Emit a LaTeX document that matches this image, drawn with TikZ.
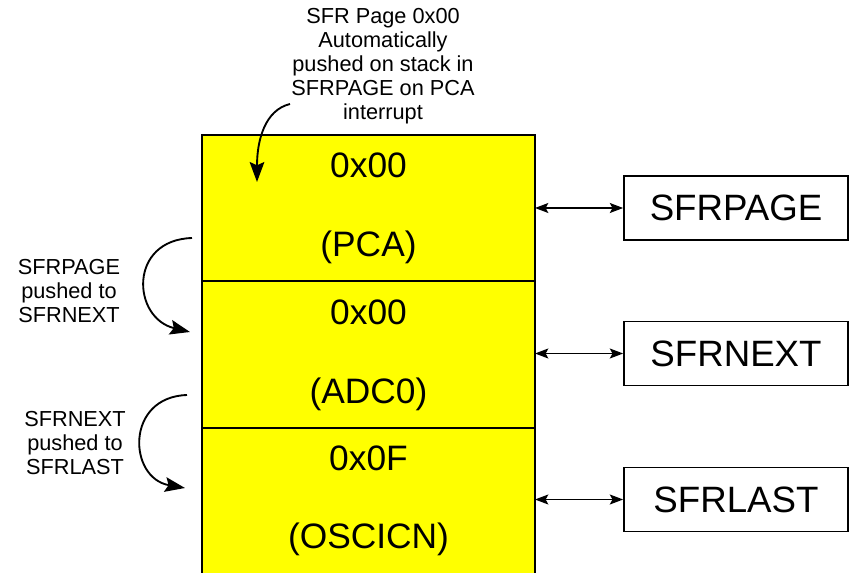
\documentclass[tikz,border=0pt]{standalone}
\usepackage{fontspec}
\setmainfont{Liberation Sans}
\usetikzlibrary{arrows.meta}
\definecolor{ylw}{RGB}{255,255,0}
\begin{document}
\begin{tikzpicture}[x=0.75pt,y=-0.75pt,
 cell/.style={draw=black, fill=ylw, line width=0.8pt, minimum width=249.75pt, minimum height=110.25pt, inner sep=0pt, outer sep=0pt},
 big/.style={font=\fontsize{26.5}{30}\selectfont, inner sep=0pt},
 reg/.style={draw=black, line width=1.3pt, minimum width=168pt, minimum height=48pt, font=\fontsize{27.5}{30}\selectfont, inner sep=0pt},
 note/.style={font=\fontsize{16.3}{18}\selectfont, align=center, inner sep=0pt},
 curvearr/.style={line width=1.4pt, -{Stealth[length=15pt,width=11pt,inset=2.5pt]}},
 link/.style={line width=1pt, {Stealth[length=10pt,width=7.5pt,inset=2pt]}-{Stealth[length=10pt,width=7.5pt,inset=2pt]}}
]
\useasboundingbox (0,0) rectangle (849,573);
\begin{scope}
\clip (0,0) rectangle (849,573);
\node[cell] (c1) at (368.5,208.5) {};
\node[cell] (c2) at (368.5,354.5) {};
\node[cell] (c3) at (368.5,501.5) {};
\end{scope}
\node[big] (v1) at (368.5,165) {0x00};
\node[big] (n1) at (368.5,247) {(PCA)};
\node[big] (v2) at (368.5,312) {0x00};
\node[big] (n2) at (368.5,394) {(ADC0)};
\node[big] (v3) at (368.5,458) {0x0F};
\node[big] (n3) at (368.5,539) {(OSCICN)};

\node[reg] (rp) at (736,208) {SFRPAGE};
\node[reg] (rn) at (736,353.5) {SFRNEXT};
\node[reg] (rl) at (736,499.5) {SFRLAST};

\draw[link] (c1.east |- rp) -- (rp.west);
\draw[link] (c2.east |- rn) -- (rn.west);
\draw[link] (c3.east |- rl) -- (rl.west);

\node[note] (top) at (383,66) {SFR Page 0x00\\Automatically\\pushed on stack in\\SFRPAGE on PCA\\interrupt};
\node[note] (l1) at (69,291) {SFRPAGE\\pushed to\\SFRNEXT};
\node[note] (l2) at (75,443) {SFRNEXT\\pushed to\\SFRLAST};

\coordinate (t0) at (290,104);
\coordinate (t1) at (257,182);
\coordinate (a0) at (192,238);
\coordinate (a1) at (190,332);
\coordinate (b0) at (187,395);
\coordinate (b1) at (185,488);
\draw[curvearr] (t0) .. controls (265,110) and (257,140) .. (t1);
\draw[curvearr] (a0) .. controls (128,240) and (132,318) .. (a1);
\draw[curvearr] (b0) .. controls (125,397) and (128,478) .. (b1);
\end{tikzpicture}
\end{document}
